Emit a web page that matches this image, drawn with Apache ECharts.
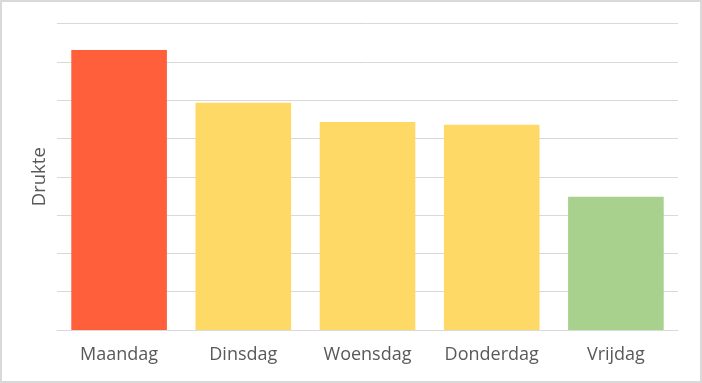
<!DOCTYPE html>
<html><head><meta charset="utf-8">
<script src="https://cdn.jsdelivr.net/npm/echarts@6/dist/echarts.min.js"></script>
<style>html,body{margin:0;padding:0;background:#fff}#c{width:702px;height:383px;box-sizing:border-box;border:2px solid #d9d9d9}</style>
</head><body><div id="c"></div>
<script>
const categories = ["Maandag", "Dinsdag", "Woensdag", "Donderdag", "Vrijdag"];
const values = [7.31, 5.93, 5.43, 5.36, 3.48];
const barColors = ["#ff5f3a", "#ffd966", "#ffd966", "#ffd966", "#a9d18e"];
const chart = echarts.init(document.getElementById('c'), null, {renderer: 'canvas'});
chart.setOption({
  animation: false,
  grid: {left: 55, right: 22, top: 21.5, bottom: 51, containLabel: false},
  xAxis: {
    type: 'category', data: categories,
    axisLine: {lineStyle: {color: '#d9d9d9', width: 1}},
    axisTick: {show: false},
    axisLabel: {color: '#595959', fontSize: 18, fontFamily: 'Open Sans', margin: 16}
  },
  yAxis: {
    type: 'value', min: 0, max: 8, interval: 1,
    axisLabel: {show: false}, axisTick: {show: false}, axisLine: {show: false},
    splitLine: {lineStyle: {color: '#d9d9d9', width: 1}},
    name: 'Drukte', nameLocation: 'middle', nameGap: 8, nameRotate: 90,
    nameTextStyle: {color: '#595959', fontSize: 18.5, fontFamily: 'Open Sans'}
  },
  series: [{
    type: 'bar', barCategoryGap: '23%',
    data: values.map((v, i) => ({value: v, itemStyle: {color: barColors[i]}}))
  }]
});
</script></body></html>
